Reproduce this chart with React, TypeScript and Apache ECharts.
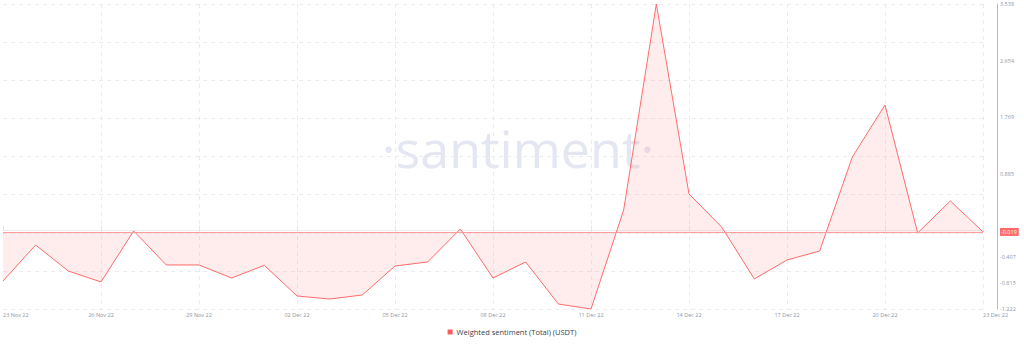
import React, { useEffect, useRef } from "react";
import * as echarts from "echarts";

// Daily dates, 23 Nov 2022 – 23 Dec 2022
const dates: string[] = [
  "23 Nov 22", "24 Nov 22", "25 Nov 22", "26 Nov 22", "27 Nov 22", "28 Nov 22",
  "29 Nov 22", "30 Nov 22", "01 Dec 22", "02 Dec 22", "03 Dec 22", "04 Dec 22",
  "05 Dec 22", "06 Dec 22", "07 Dec 22", "08 Dec 22", "09 Dec 22", "10 Dec 22",
  "11 Dec 22", "12 Dec 22", "13 Dec 22", "14 Dec 22", "15 Dec 22", "16 Dec 22",
  "17 Dec 22", "18 Dec 22", "19 Dec 22", "20 Dec 22", "21 Dec 22", "22 Dec 22",
  "23 Dec 22",
];

// Weighted sentiment (Total) for USDT
const sentiment: number[] = [
  -0.785, -0.223, -0.629, -0.8, -0.004, -0.535, -0.535, -0.738, -0.54, -1.019,
  -1.066, -1.003, -0.551, -0.488, 0.027, -0.738, -0.488, -1.144, -1.222, 0.323,
  3.538, 0.573, 0.058, -0.753, -0.457, -0.317, 1.15, 1.962, -0.036, 0.464,
  -0.019,
];

// Right-hand scale labels and the latest value
const yTicks: number[] = [3.538, 2.654, 1.769, 0.885, -0.407, -0.815, -1.222];
const lastValue = -0.019;
const yMin = -1.222;
const yMax = 3.538;

const seriesName = "Weighted sentiment (Total) (USDT)";
const RED = "#ff6b6b";
const FONT = "'Open Sans', 'Noto Sans', sans-serif";

export default function App() {
  const ref = useRef<HTMLDivElement>(null);

  useEffect(() => {
    if (!ref.current) return;
    document.body.style.margin = "0";
    const chart = echarts.init(ref.current, undefined, { renderer: "svg" });

    chart.setOption({
      animation: false,
      textStyle: { fontFamily: FONT },
      grid: { left: 0, right: 41, top: 4, bottom: 38 },
      graphic: [
        {
          type: "text",
          x: 518,
          y: 147,
          z: -10,
          silent: true,
          style: {
            text: "·santiment·",
            fill: "#e4e7f1",
            font: `52px ${FONT}`,
            textAlign: "center",
            textVerticalAlign: "middle",
          },
        },
      ],
      legend: {
        bottom: 6,
        left: "center",
        itemWidth: 5,
        itemHeight: 5,
        itemGap: 10,
        icon: "rect",
        textStyle: { fontSize: 7.5, color: "#3a3f4a", padding: [0, 0, 0, -1] },
        data: [{ name: seriesName, itemStyle: { color: "#ff5c5c" } }],
      },
      xAxis: {
        type: "category",
        data: dates,
        boundaryGap: false,
        axisLine: { show: true, lineStyle: { color: "#ededf0", width: 1 } },
        axisTick: {
          show: true,
          inside: true,
          length: 5,
          interval: (idx: number) => idx % 3 === 0,
          lineStyle: { color: "#e6e6ea" },
        },
        axisLabel: {
          interval: (idx: number) => idx % 3 === 0,
          fontSize: 5.5,
          color: "#8e96a6",
          margin: 3,
          alignMinLabel: "left",
          alignMaxLabel: "left",
        },
        splitLine: {
          show: true,
          interval: (idx: number) => idx % 3 === 0 && idx > 0,
          lineStyle: { color: "#ececf0", type: [4, 4] },
        },
      },
      yAxis: [
        {
          type: "value",
          position: "right",
          offset: 14,
          min: yMin,
          max: yMax,
          axisLine: { show: true, lineStyle: { color: "#ff9d9d", width: 1 } },
          axisTick: { show: false },
          splitLine: { show: false },
          axisLabel: {
            customValues: [...yTicks, lastValue],
            fontSize: 5.5,
            color: "#8e96a6",
            margin: 3,
            formatter: (v: number) =>
              Math.abs(v - lastValue) < 1e-9 ? `{hl|${v.toFixed(3)}}` : v.toFixed(3),
            rich: {
              hl: {
                backgroundColor: "#ff6b6b",
                color: "#ffffff",
                fontSize: 5.5,
                padding: [1, 2, 1, 1],
              },
            },
          },
        },
        {
          type: "value",
          position: "right",
          min: 0,
          max: 8,
          interval: 1,
          axisLine: { show: false },
          axisTick: { show: false },
          axisLabel: { show: false },
          splitLine: { show: true, lineStyle: { color: "#ececf0", type: [4, 4] } },
        },
      ],
      series: [
        {
          name: seriesName,
          type: "line",
          data: sentiment,
          yAxisIndex: 0,
          symbol: "none",
          lineStyle: { color: RED, width: 1 },
          itemStyle: { color: "#ff5c5c" },
          areaStyle: { color: "rgba(255, 110, 120, 0.18)", origin: lastValue },
          markLine: {
            silent: true,
            symbol: "none",
            label: { show: false },
            lineStyle: { color: "#ff9d9d", type: "solid", width: 1 },
            data: [{ yAxis: lastValue }],
          },
        },
      ],
    });

    return () => chart.dispose();
  }, []);

  return <div ref={ref} style={{ width: 1024, height: 347 }} />;
}
